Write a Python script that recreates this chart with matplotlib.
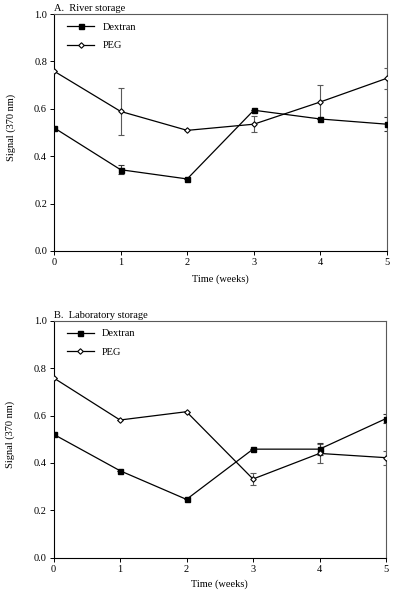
import matplotlib
matplotlib.use("Agg")
import matplotlib.pyplot as plt

weeks = [0, 1, 2, 3, 4, 5]

# Panel A: River storage
river_dextran = [0.52, 0.343, 0.304, 0.594, 0.557, 0.535]
river_dextran_err = [0.0, 0.02, 0.0, 0.0, 0.0, 0.03]
river_peg = [0.759, 0.589, 0.509, 0.535, 0.629, 0.729]
river_peg_err = [0.0, 0.10, 0.0, 0.034, 0.07, 0.045]

# Panel B: Laboratory storage
lab_dextran = [0.521, 0.367, 0.246, 0.458, 0.458, 0.587]
lab_dextran_err = [0.0, 0.0, 0.0, 0.0, 0.025, 0.02]
lab_peg = [0.759, 0.581, 0.616, 0.332, 0.44, 0.422]
lab_peg_err = [0.0, 0.0, 0.0, 0.027, 0.04, 0.03]

yticks = [0.0, 0.2, 0.4, 0.6, 0.8, 1.0]
ytick_labels = ["0.0", "0.2", "0.4", "0.6", "0.8", "1.0"]
xtick_labels = ["0", "1", "2", "3", "4", "5"]

plt.rcParams['font.family'] = ['Liberation Serif', 'DejaVu Serif']
plt.rcParams['font.size'] = 7.5

W, H = 400, 594
fig = plt.figure(figsize=(W / 100, H / 100), dpi=100)


def px_axes(left, top, right, bottom):
    return fig.add_axes([left / W, 1 - bottom / H, (right - left) / W, (bottom - top) / H])


def draw(ax, dex, dex_err, peg, peg_err, title, xlab_y):
    ax.errorbar(weeks, peg, yerr=peg_err, fmt='none', ecolor='0.35', elinewidth=0.8,
                capsize=2.5, capthick=0.8, zorder=2)
    ax.errorbar(weeks, dex, yerr=dex_err, fmt='none', ecolor='0.2', elinewidth=0.8,
                capsize=2.5, capthick=0.8, zorder=2)
    ax.plot(weeks, dex, color='black', lw=0.9, marker='s', ms=3.6,
            mfc='black', mec='black', label='Dextran', zorder=3)
    ax.plot(weeks, peg, color='black', lw=0.9, marker='D', ms=2.8,
            mfc='white', mec='black', mew=0.8, label='PEG', zorder=4)
    ax.set_xlim(0, 5)
    ax.set_ylim(0, 1.0)
    ax.set_xticks(weeks)
    ax.set_xticklabels(xtick_labels)
    ax.set_yticks(yticks)
    ax.set_yticklabels(ytick_labels)
    ax.tick_params(direction='out', length=3, width=0.7, labelsize=7.5, pad=2)
    for s in ax.spines.values():
        s.set_linewidth(0.8)
        s.set_color('0.35')
    ax.spines['left'].set_color('black')
    ax.spines['bottom'].set_color('black')
    ax.set_xlabel('Time (weeks)', fontsize=7.5)
    ax.set_ylabel('Signal (370 nm)', fontsize=7.5)
    ax.xaxis.set_label_coords(0.5, xlab_y)
    ax.yaxis.set_label_coords(-0.115, 0.52)
    ax.set_title(title, loc='left', fontsize=7.5, pad=2)
    ax.legend(loc='upper left', frameon=False, fontsize=7.5, handlelength=2.6,
              labelspacing=0.9, borderaxespad=0.4, bbox_to_anchor=(0.015, 1.0))


axA = px_axes(54, 14, 387, 251)
draw(axA, river_dextran, river_dextran_err, river_peg, river_peg_err, 'A.  River storage', -0.1)

axB = px_axes(53.5, 320.7, 386, 557.7)
draw(axB, lab_dextran, lab_dextran_err, lab_peg, lab_peg_err, 'B.  Laboratory storage', -0.09)

fig.savefig('out.png', dpi=100)
